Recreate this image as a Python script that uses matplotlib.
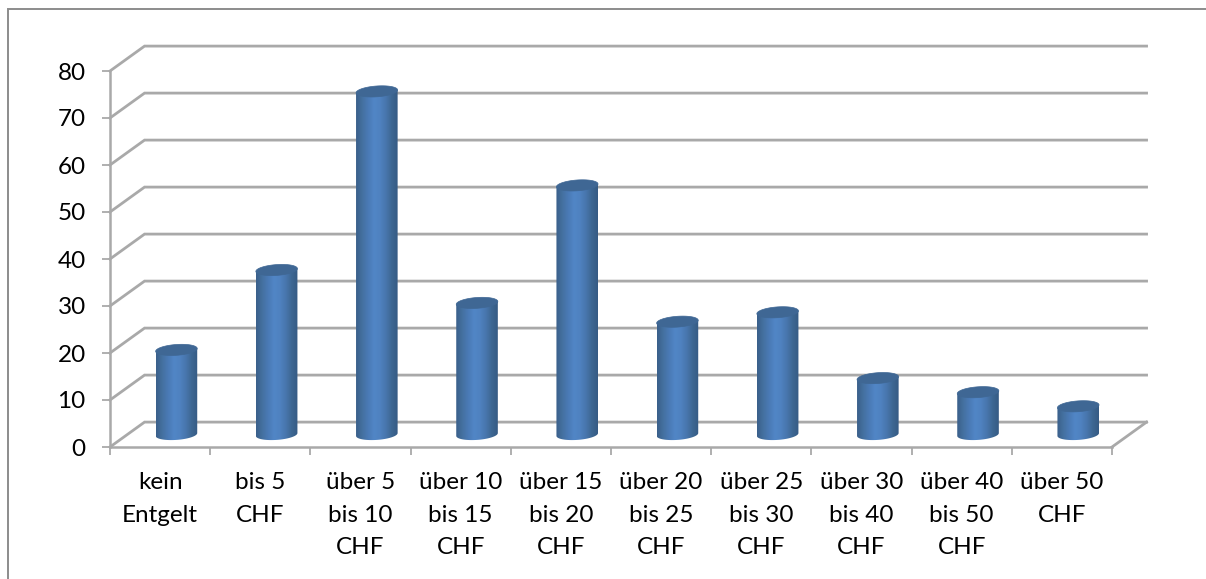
import numpy as np
import matplotlib
matplotlib.use("Agg")
import matplotlib.pyplot as plt
from matplotlib.lines import Line2D
from matplotlib.patches import PathPatch
from matplotlib.path import Path

labels = ["kein\nEntgelt", "bis 5\nCHF", "über 5\nbis 10\nCHF", "über 10\nbis 15\nCHF",
          "über 15\nbis 20\nCHF", "über 20\nbis 25\nCHF", "über 25\nbis 30\nCHF",
          "über 30\nbis 40\nCHF", "über 40\nbis 50\nCHF", "über 50\nCHF"]
values = [18, 35, 73, 28, 53, 24, 26, 12, 9, 6]
yticks = [0, 10, 20, 30, 40, 50, 60, 70, 80]

plt.rcParams["font.family"] = ["Lato", "DejaVu Sans"]

W, H = 1206, 579
fig = plt.figure(figsize=(W / 100, H / 100), dpi=100)
ax = fig.add_axes([110 / W, 1 - 447 / H, 1002 / W, 376 / H])
ax.set_xlim(0, 10)
ax.set_ylim(0, 80)

grid = "#a9a9a9"
# depth of the fake 3d box, in data units
dx = 0.345
dy = 5.3

for v in yticks:
    ax.plot([0, dx, 10 + dx], [v, v + dy, v + dy], color=grid, lw=2, clip_on=False, zorder=1,
            solid_joinstyle="miter")
ax.plot([10, 10 + dx], [0, dy], color=grid, lw=2, clip_on=False, zorder=1)

for s in ["top", "right"]:
    ax.spines[s].set_visible(False)
for s in ["left", "bottom"]:
    ax.spines[s].set_color(grid)
    ax.spines[s].set_linewidth(1.8)

ax.set_xticks(np.arange(0, 11))
ax.set_xticklabels([])
ax.set_xticks(np.arange(10) + 0.5, labels=labels, minor=True)
ax.set_yticks(yticks)
ax.tick_params(axis="x", which="major", length=6, width=1.3, color=grid)
ax.tick_params(axis="x", which="minor", length=0, pad=18, labelsize=17.5)
ax.tick_params(axis="y", length=5.5, width=1.3, color=grid, pad=12, labelsize=17.5)
for t in ax.get_xticklabels(minor=True):
    t.set_linespacing(1.68)
    t.set_color("black")

# horizontal shading across the cylinder
shade = matplotlib.colors.LinearSegmentedColormap.from_list(
    "cyl", ["#3a5f8a", "#44709f", "#4a7ab5", "#5186c6", "#4f82c0", "#4876ad", "#3d6792", "#365b84"])
grad = np.linspace(0, 1, 128).reshape(1, -1)

bar_w = 0.415
base = 2.66
rise = 1.15
tilt = 0.3
t = np.linspace(0, 2 * np.pi, 81)

for i, val in enumerate(values):
    cx = i + 0.5 + 0.163
    left, right = cx - bar_w / 2, cx + bar_w / 2
    top = val + base
    # side wall: lower half of the base ellipse and up to the top
    tb = np.linspace(np.pi, 2 * np.pi, 40)
    xs = cx + bar_w / 2 * np.cos(tb)
    ys = base + rise * np.sin(tb) + tilt * np.cos(tb)
    px = np.r_[xs, right, left, xs[0]]
    py = np.r_[ys, top + tilt, top - tilt, ys[0]]
    clip = PathPatch(Path(np.c_[px, py]), transform=ax.transData, fc="none", ec="none")
    ax.add_patch(clip)
    im = ax.imshow(grad, extent=[left, right, -5, top + 5], cmap=shade, aspect="auto", zorder=3)
    im.set_clip_path(clip)
    ex = cx + bar_w / 2 * np.cos(t)
    ey = top + rise * np.sin(t) + tilt * np.cos(t)
    ax.fill(ex, ey, color="#3f6794", zorder=4, clip_on=False, lw=0.5)

ax.set_xlim(0, 10)
ax.set_ylim(0, 80)

# outer frame of the chart area
fig.add_artist(Line2D([8 / W, 8 / W, 1], [0, 1 - 9 / H, 1 - 9 / H], color="#8c8c8c", lw=1.4,
                      solid_joinstyle="miter"))

fig.savefig("out.png", dpi=100)
